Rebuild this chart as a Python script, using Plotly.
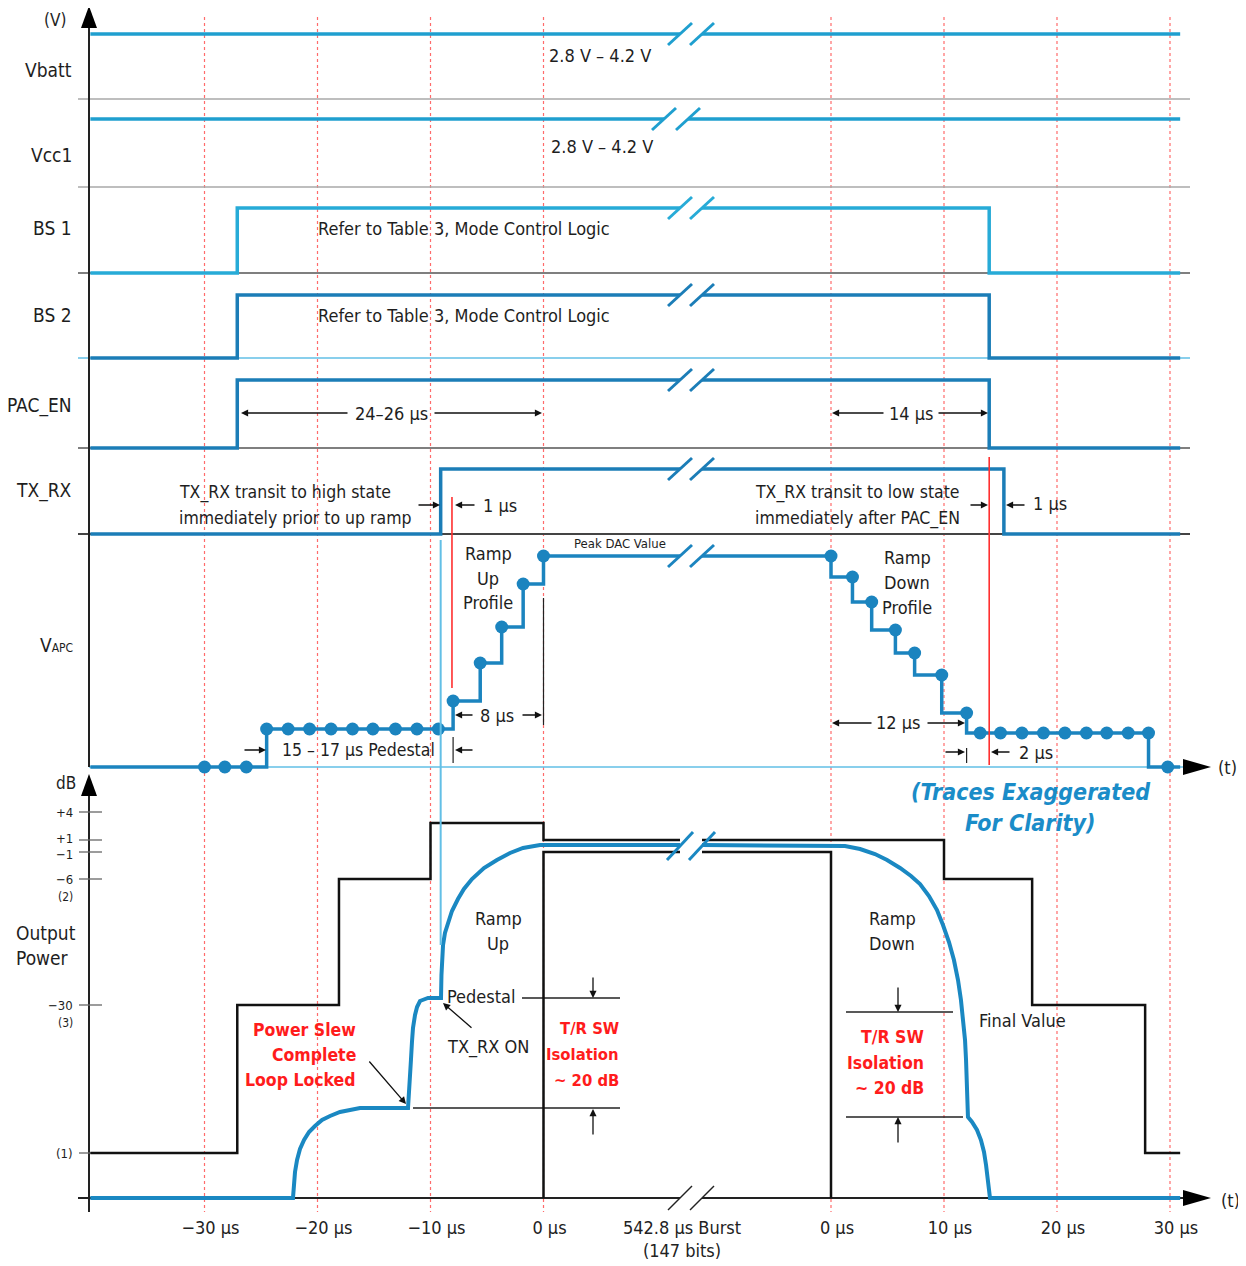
import plotly.graph_objects as go

FONT = "Liberation Sans Narrow, DejaVu Sans Condensed, Arial Narrow, Roboto, sans-serif"

# ---------------------------------------------------------------- data
# Time in µs.  *_pre values are measured from the start of the burst ("0 µs" left),
# *_post values from the end of the burst ("0 µs" right); the 542.8 µs burst is collapsed.
tick_pre = [-30, -20, -10, 0]
tick_post = [0, 10, 20, 30]
tick_text_pre = ["−30 µs", "−20 µs", "−10 µs", "0 µs"]
tick_text_post = ["0 µs", "10 µs", "20 µs", "30 µs"]
burst_text = "542.8 µs Burst<br>(147 bits)"

t_first = -40.1          # left end of the traces (pre)
t_last = 30.9            # right end of the traces (post)

lane_labels = ["Vbatt", "Vcc1", "BS 1", "BS 2", "PAC_EN", "TX_RX"]
supply_text = "2.8 V – 4.2 V"
mode_text = "Refer to Table 3, Mode Control Logic"

ctrl_rise = -27.1        # BS1 / BS2 / PAC_EN go high (pre)
ctrl_fall = 14.0         # BS1 / BS2 / PAC_EN go low (post)
txrx_rise = -9.1         # TX_RX high (pre)
txrx_fall = 15.3         # TX_RX low (post)

# VAPC DAC profile (DAC level, arbitrary units)
vapc_up_t = [-24.5, -8.0, -5.6, -3.7, -1.8, 0.0]
vapc_up_lvl = [38, 66, 104, 140, 183, 211]
vapc_dn_t = [0.0, 1.9, 3.6, 5.7, 7.4, 9.8, 12.0, 28.1]
vapc_dn_lvl = [190, 165, 137, 114, 92, 54, 34, 0]
vapc_dot_pre_t = [-30.0, -28.2, -26.3, -24.5, -22.6, -20.7, -18.8, -16.9, -15.1,
                  -13.1, -11.2, -9.3, -8.0, -5.6, -3.7, -1.8, 0.0]
vapc_dot_pre_lvl = [0, 0, 0, 38, 38, 38, 38, 38, 38, 38, 38, 38, 66, 104, 140, 183, 211]
vapc_dot_post_t = [0.0, 1.9, 3.6, 5.7, 7.4, 9.8, 12.0, 13.2, 15.0, 16.9, 18.8, 20.7,
                   22.6, 24.4, 26.3, 28.1, 29.8]
vapc_dot_post_lvl = [211, 190, 165, 137, 114, 92, 54, 34, 34, 34, 34, 34, 34, 34, 34, 34, 0]

# Output power (schematic level above the time axis)
db_tick_lvl = [386, 358, 346, 319, 193, 45]
db_tick_text = ["+4", "+1", "−1", "−6", "−30", "(1)"]
db_note_lvl = [319, 193]
db_note_text = ["(2)", "(3)"]

mask_start_lvl = 45
mask_hi_pre_t = [-27.1, -18.1, -10.0, 0.0]
mask_hi_pre_lvl = [193, 319, 375, 358]
mask_hi_post_t = [10.0, 17.8, 27.8]
mask_hi_post_lvl = [319, 193, 45]
mask_lo_lvl = 346

pwr_pre_t = [-40.1, -22.17, -22.08, -21.99, -21.81, -21.55, -21.19, -20.75, -20.22,
             -19.60, -18.89, -18.01, -17.12, -16.24, -11.99, -11.90, -11.81, -11.73,
             -11.64, -11.55, -11.37, -11.19, -10.93, -10.58, -10.22, -9.16, -9.07,
             -9.03, -8.94, -8.89, -8.72, -8.45, -8.10, -7.57, -7.04, -6.33, -5.27,
             -4.12, -2.96, -1.81, -0.31]
pwr_pre_lvl = [0, 0, 13, 26, 38, 49, 58, 66, 72,
               78, 82, 86, 88, 90, 90, 103, 120, 138,
               156, 170, 183, 191, 197, 199, 200, 200, 200,
               223, 243, 253, 265, 276, 287, 299, 309, 319, 330,
               338, 345, 350, 353]
pwr_post_t = [0.0, 1.24, 2.57, 3.89, 4.96, 6.11, 7.08, 7.88, 8.67, 9.38, 9.91, 10.44,
              10.88, 11.24, 11.50, 11.68, 11.86, 11.95, 12.04, 12.12, 12.48, 12.92,
              13.27, 13.54, 13.72, 13.89, 14.07, 30.9]
pwr_post_lvl = [353, 352, 349, 344, 338, 330, 322, 314, 302, 288, 273, 256,
                238, 218, 198, 178, 158, 138, 113, 81, 76, 68,
                58, 46, 33, 16, 0, 0]

# ---------------------------------------------------------------- layout helpers
OFF = 8                                # page margin of the html body
PX0, PXS = 543.5, 11.3                 # page pixel of "0 µs" (pre) and pixels per µs
GAP = (831 - PX0) / PXS                # display offset of the post-burst time scale


def X(px):
    return (px - PX0) / PXS


B0, B1 = X(680), X(702)                # break marks
LANE_LOW = [34, 119, 273, 358, 448, 534]
LANE_HIGH = [None, None, 208, 295, 380, 469]
LANE_LABEL_Y = [70, 155, 228, 315, 405, 490]
VAPC_BASE = 767
PWR_BASE = 1198
PLOT_BOTTOM = 1215

TXT = "#1e1e1e"
RED = "#ff1c1c"
C_SUPPLY = "#1f9fcf"
C_BS1 = "#27abd7"
C_SIG = "#1b7db7"
C_VAPC = "#1b84bf"
C_PWR = "#1a88c2"
C_LIGHT = "#62bfe6"

fig = go.Figure()


def brk(xs, ys, b0=B0, b1=B1):
    ox, oy = [], []
    for i in range(len(xs)):
        if i > 0 and ys[i] == ys[i - 1] and xs[i - 1] < b0 and xs[i] > b1:
            ox += [b0, None, b1]
            oy += [ys[i], None, ys[i]]
        ox.append(xs[i])
        oy.append(ys[i])
    return ox, oy


def line(xs, ys, color, width):
    fig.add_trace(go.Scatter(x=xs, y=ys, mode="lines", line=dict(color=color, width=width),
                             hoverinfo="skip", connectgaps=False))


def seg(x0, y0, x1, y1, color, width=1.5, dash=None, layer="below"):
    fig.add_shape(type="line", x0=x0, y0=y0, x1=x1, y1=y1, xref="x", yref="y",
                  line=dict(color=color, width=width, dash=dash), layer=layer)


def slashes(yc, color, h=11, w=12, width=3, b0=B0, b1=B1):
    for bx in (b0, b1):
        seg(bx - w / PXS, yc + h, bx + w / PXS, yc - h, color, width, layer="above")


def tri(pts):
    path = "M " + " L ".join(f"{X(px)},{py}" for px, py in pts) + " Z"
    fig.add_shape(type="path", path=path, xref="x", yref="y", fillcolor="#000",
                  line=dict(width=0), layer="above")


def T(px, py, text, size=18, color=TXT, xanchor="center", align="center",
      bold=False, italic=False, spacing=None):
    lines = text.split("<br>") if spacing else [text]
    n = len(lines)
    for i, ln in enumerate(lines):
        yy = py + (i - (n - 1) / 2) * (spacing or 0)
        if bold:
            ln = f"<b>{ln}</b>"
        if italic:
            ln = f"<i>{ln}</i>"
        fig.add_annotation(x=X(px), y=yy, xref="x", yref="y", text=ln, showarrow=False,
                           font=dict(family=FONT, size=size, color=color),
                           xanchor=xanchor, yanchor="middle", align=align)


def A(hx, hy, tx, ty):
    fig.add_annotation(x=X(hx), y=hy, ax=X(tx), ay=ty, xref="x", yref="y",
                       axref="x", ayref="y", text="", showarrow=True, arrowhead=2,
                       arrowsize=1.1, arrowwidth=1.3, arrowcolor="#111", standoff=0)


# ---------------------------------------------------------------- background grid
for t in tick_pre:
    seg(t, 17, t, 1212, "#ff6b6b", 1.2, "dot")
for t in tick_post:
    seg(t + GAP, 17, t + GAP, 1212, "#ff6b6b", 1.2, "dot")

for yy, col, w in [(99, "#a8a8a8", 1.5), (187, "#a8a8a8", 1.5), (273, "#555", 1.5),
                   (358, C_LIGHT, 1.5), (448, "#555", 1.5), (534, "#444", 1.8)]:
    seg(X(78), yy, X(1190), yy, col, w)
seg(X(89), VAPC_BASE, X(1184), VAPC_BASE, C_LIGHT, 1.5)

# axes
seg(X(89), 26, X(89), VAPC_BASE, "#222", 2)
seg(X(89), 794, X(89), 1212, "#222", 2)
seg(X(78), PWR_BASE, B0, PWR_BASE, "#222", 2)
seg(B1, PWR_BASE, X(1184), PWR_BASE, "#222", 2)
slashes(PWR_BASE, "#222", h=12, w=12, width=1.5)
tri([(89, 6), (81, 28), (97, 28)])
tri([(89, 774), (81, 796), (97, 796)])
tri([(1211, VAPC_BASE), (1183, VAPC_BASE - 8), (1183, VAPC_BASE + 8)])
tri([(1211, PWR_BASE), (1183, PWR_BASE - 8), (1183, PWR_BASE + 8)])

# ---------------------------------------------------------------- supply lanes
for yy, b0, b1 in [(LANE_LOW[0], B0, B1), (LANE_LOW[1], X(664), X(688))]:
    xs, ys = brk([t_first, t_last + GAP], [yy, yy], b0, b1)
    line(xs, ys, C_SUPPLY, 3.5)
    slashes(yy, C_SUPPLY, b0=b0, b1=b1)

# ---------------------------------------------------------------- control lanes
ctrl = [(2, ctrl_rise, ctrl_fall, C_BS1), (3, ctrl_rise, ctrl_fall, C_SIG),
        (4, ctrl_rise, ctrl_fall, C_SIG), (5, txrx_rise, txrx_fall, C_SIG)]
for idx, r, f, col in ctrl:
    lo, hi = LANE_LOW[idx], LANE_HIGH[idx]
    xs = [t_first, r, r, f + GAP, f + GAP, t_last + GAP]
    ys = [lo, lo, hi, hi, lo, lo]
    xs, ys = brk(xs, ys)
    line(xs, ys, col, 3.5)
    slashes(hi, col)

# ---------------------------------------------------------------- VAPC
pts_t = list(vapc_up_t) + [t + GAP for t in vapc_dn_t]
pts_l = list(vapc_up_lvl) + list(vapc_dn_lvl)
xs, ys, cur = [t_first], [VAPC_BASE], VAPC_BASE
for t, l in zip(pts_t, pts_l):
    y = VAPC_BASE - l
    xs += [t, t]
    ys += [cur, y]
    cur = y
xs.append(t_last + GAP)
ys.append(cur)
xs, ys = brk(xs, ys)
line(xs, ys, C_VAPC, 3.5)
slashes(VAPC_BASE - vapc_up_lvl[-1], C_VAPC)
fig.add_trace(go.Scatter(
    x=list(vapc_dot_pre_t) + [t + GAP for t in vapc_dot_post_t],
    y=[VAPC_BASE - l for l in vapc_dot_pre_lvl + vapc_dot_post_lvl],
    mode="markers", marker=dict(size=13, color=C_VAPC), hoverinfo="skip"))

# ---------------------------------------------------------------- output power
mt = list(mask_hi_pre_t) + [t + GAP for t in mask_hi_post_t]
ml = list(mask_hi_pre_lvl) + list(mask_hi_post_lvl)
xs, ys, cur = [t_first], [PWR_BASE - mask_start_lvl], PWR_BASE - mask_start_lvl
for t, l in zip(mt, ml):
    y = PWR_BASE - l
    xs += [t, t]
    ys += [cur, y]
    cur = y
xs.append(t_last + GAP)
ys.append(cur)
xs, ys = brk(xs, ys)
line(xs, ys, "#111", 2.5)
xs, ys = brk([0, 0, GAP, GAP],
             [PWR_BASE, PWR_BASE - mask_lo_lvl, PWR_BASE - mask_lo_lvl, PWR_BASE])
line(xs, ys, "#111", 2.5)
xs = list(pwr_pre_t) + [t + GAP for t in pwr_post_t]
ys = [PWR_BASE - l for l in pwr_pre_lvl + pwr_post_lvl]
xs, ys = brk(xs, ys)
line(xs, ys, C_PWR, 4)
slashes(846, C_PWR, h=14, w=13, width=3)

# dB scale
for l, tx in zip(db_tick_lvl, db_tick_text):
    seg(X(79), PWR_BASE - l, X(102), PWR_BASE - l, "#666", 1.3)
    T(75, PWR_BASE - l + (2 if tx == "−1" else (-2 if tx == "+1" else 0)), tx, size=13,
      xanchor="right")
for l, tx in zip(db_note_lvl, db_note_text):
    T(75, PWR_BASE - l + 18, tx, size=12, xanchor="right")

# ---------------------------------------------------------------- markers / guides
seg(txrx_rise, 540, txrx_rise, 945, C_LIGHT, 2, layer="above")
seg(txrx_rise + 1, 497, txrx_rise + 1, 688, "#ff3030", 1.6, layer="above")
seg(ctrl_fall + GAP, 457, ctrl_fall + GAP, 765, "#ff3030", 1.6, layer="above")
seg(0, 598, 0, 725, "#222", 1.2)
seg(vapc_up_t[1], 737, vapc_up_t[1], 763, "#222", 1.2)
seg(vapc_dn_t[6] + GAP, 748, vapc_dn_t[6] + GAP, 763, "#222", 1.2)
seg(X(522), 998, X(620), 998, "#222", 1.3)
seg(X(413), 1108, X(620), 1108, "#222", 1.3)
seg(X(846), 1012, X(953), 1012, "#222", 1.3)
seg(X(846), 1117, X(963), 1117, "#222", 1.3)

# ---------------------------------------------------------------- labels
T(55, 20, "(V)", size=17)
for lab, yy in zip(lane_labels, LANE_LABEL_Y):
    T(74, yy, lab, size=19, xanchor="right")
T(75, 645, "V<span style='font-size:12px'>APC</span>", size=19, xanchor="right")
T(66, 783, "dB", size=17)
T(14, 945.5, "Output<br>Power", size=19, xanchor="left", align="left", spacing=25)

T(600, 55, supply_text)
T(602, 146, supply_text)
T(464, 228, mode_text)
T(464, 315, mode_text)

T(391, 413, "24–26 µs")
A(241, 413, 349, 413)
A(542, 413, 433, 413)
T(911, 413, "14 µs")
A(832, 413, 885, 413)
A(988, 413, 937, 413)

T(177, 505, "TX_RX transit to high state<br>immediately prior to up ramp", size=17.5,
  xanchor="left", align="left", spacing=26)
A(440, 505, 417, 505)
A(455, 505, 476, 505)
T(500, 505, "1 µs")
T(753, 505, "TX_RX transit to low state<br>immediately after PAC_EN", size=17.5,
  xanchor="left", align="left", spacing=26)
A(988, 505, 969, 505)
A(1006, 505, 1026, 505)
T(1050, 503, "1 µs")

T(488, 578, "Ramp<br>Up<br>Profile", spacing=24.5)
T(620, 543, "Peak DAC Value", size=13)
T(907, 582, "Ramp<br>Down<br>Profile", spacing=25)
T(497, 715, "8 µs")
A(455, 715, 474, 715)
A(542, 715, 521, 715)
T(898, 722, "12 µs")
A(832, 723, 873, 723)
A(965, 723, 926, 723)
T(1036, 752, "2 µs")
A(965, 752, 944, 752)
A(991, 752, 1011, 752)
T(358, 750, "15 – 17 µs Pedestal", size=17.5)
A(266, 750, 243, 750)
A(455, 750, 474, 750)
T(1227, 767, "(t)", size=18)

T(1030, 807.5, "(Traces Exaggerated<br>For Clarity)", size=23, color="#1a8cc8",
  bold=True, italic=True, spacing=31)

T(498, 930.5, "Ramp<br>Up", spacing=25)
T(892, 930.5, "Ramp<br>Down", spacing=25)
T(481, 996, "Pedestal")
T(488, 1047, "TX_RX ON")
A(443, 1003, 473, 1029)
T(621, 1054, "T/R SW<br>Isolation<br>~ 20 dB", size=16.5, color=RED, bold=True,
  xanchor="right", align="right", spacing=26)
A(593, 998, 593, 976)
A(593, 1109, 593, 1136)
T(926, 1062.5, "T/R SW<br>Isolation<br>~ 20 dB", size=17.5, color=RED, bold=True,
  xanchor="right", align="right", spacing=25.5)
A(898, 1012, 898, 986)
A(898, 1117, 898, 1144)
T(358, 1055, "Power Slew<br>Complete<br>Loop Locked", size=17.5, color=RED, bold=True,
  xanchor="right", align="right", spacing=25)
A(406, 1104, 368, 1060)
T(1022, 1020, "Final Value")
T(1230, 1200, "(t)", size=18)

# ---------------------------------------------------------------- axes
tickvals = list(tick_pre) + [X(676)] + [t + GAP for t in tick_post]
ticktext = tick_text_pre + [burst_text] + tick_text_post
fig.update_layout(
    width=1246 - OFF, height=1266 - OFF,
    margin=dict(l=0, r=0, t=0, b=1266 - PLOT_BOTTOM),
    plot_bgcolor="white", paper_bgcolor="white", showlegend=False,
    xaxis=dict(range=[X(OFF), X(1246)], showgrid=False, zeroline=False, showline=False,
               tickvals=tickvals, ticktext=ticktext, ticks="", ticklabelshift=6,
               tickfont=dict(family=FONT, size=18, color="#222"), fixedrange=True),
    yaxis=dict(range=[PLOT_BOTTOM, OFF], visible=False, fixedrange=True),
)

fig.write_html("out.html")
